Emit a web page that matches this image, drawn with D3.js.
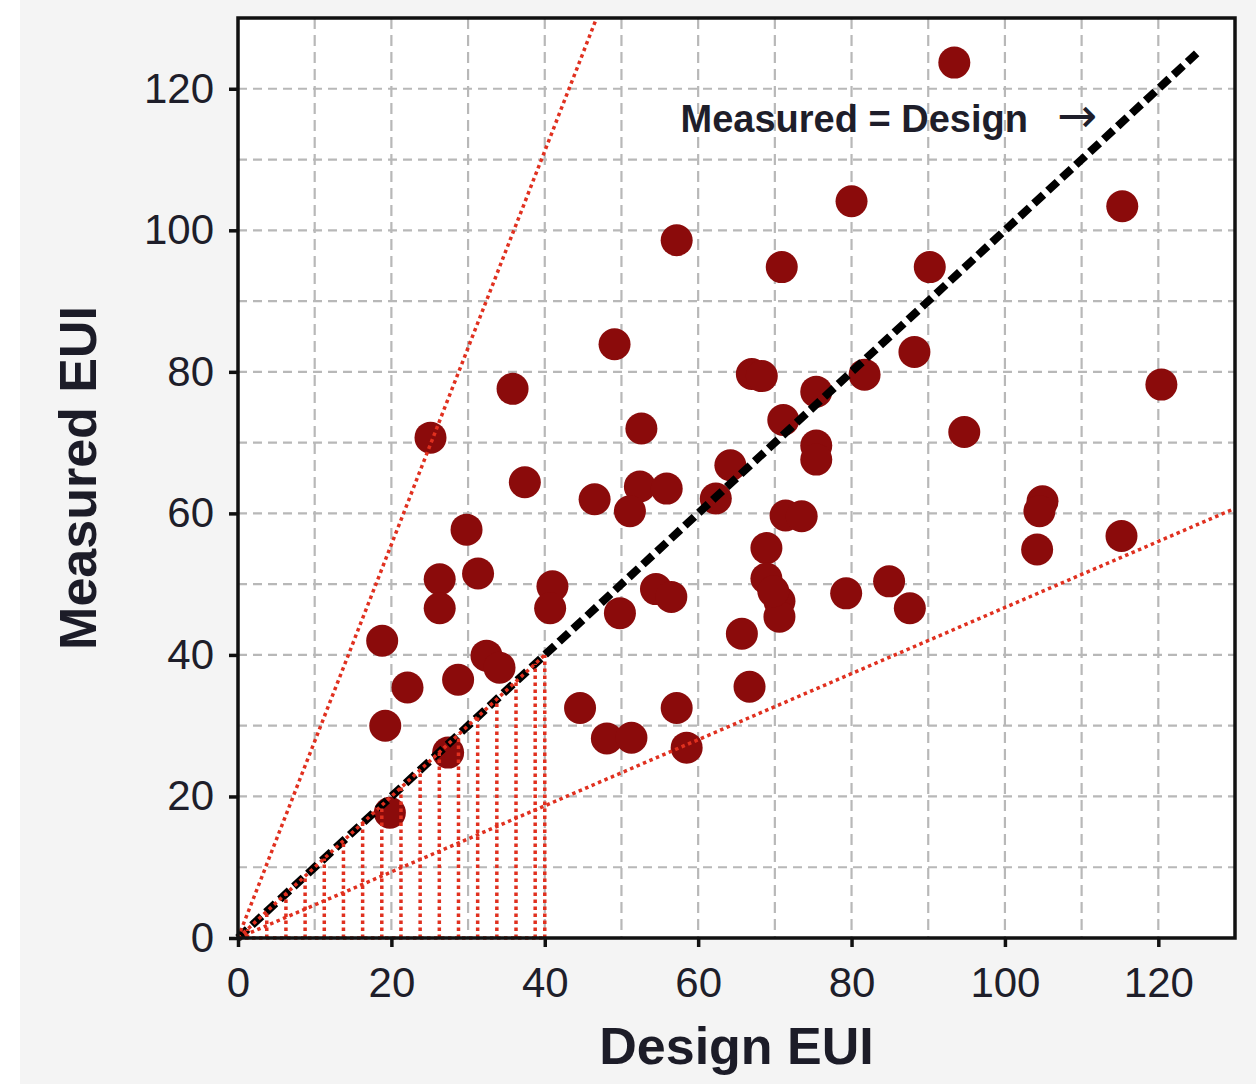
<!DOCTYPE html>
<html>
<head>
<meta charset="utf-8">
<script src="https://cdn.jsdelivr.net/npm/d3@7"></script>
<style>
  html, body { margin: 0; padding: 0; background: #fff; }
  svg { display: block; }
  .tick text { font-family: "Liberation Sans", Arial, sans-serif; fill: #1e1e2a; }
</style>
</head>
<body>
<svg id="chart" width="1256" height="1084"></svg>
<script>
// design EUI (x) vs measured EUI (y)
const designEUI = [93.4, 80.0, 115.3, 57.2, 70.9, 90.2, 49.1, 88.2, 35.8, 67.0,
  68.3, 81.7, 120.4, 75.4, 25.1, 52.6, 94.7, 71.1, 75.4, 75.4,
  64.2, 37.4, 46.5, 52.4, 55.9, 62.3, 51.1, 104.9, 104.5, 104.2,
  115.2, 29.8, 71.4, 73.5, 68.9, 68.9, 26.3, 31.3, 41.0, 40.7,
  26.3, 49.8, 54.5, 56.5, 70.6, 70.6, 79.3, 84.9, 87.6, 18.8,
  65.7, 22.1, 28.7, 32.4, 34.1, 44.6, 57.2, 66.7, 19.2, 48.1,
  51.3, 58.5, 27.4, 19.8, 69.8];
const measuredEUI = [123.7, 104.1, 103.4, 98.6, 94.8, 94.8, 83.9, 82.8, 77.6, 79.7,
  79.4, 79.6, 78.2, 77.2, 70.7, 72.0, 71.5, 73.2, 69.6, 67.6,
  66.8, 64.4, 62.0, 63.8, 63.5, 62.1, 60.3, 61.7, 60.3, 54.9,
  56.8, 57.7, 59.7, 59.6, 55.1, 50.8, 50.7, 51.5, 49.7, 46.6,
  46.6, 45.9, 49.3, 48.2, 47.6, 45.4, 48.7, 50.4, 46.6, 42.0,
  43.0, 35.4, 36.5, 39.9, 38.2, 32.5, 32.5, 35.5, 30.0, 28.2,
  28.3, 26.9, 26.2, 17.7, 49.0];

const xTicks = [0, 20, 40, 60, 80, 100, 120];
const yTicks = [0, 20, 40, 60, 80, 100, 120];
const gridVals = [10, 20, 30, 40, 50, 60, 70, 80, 90, 100, 110, 120];

// reference lines: measured = slope * design
const upperSlope = 2.78;
const lowerSlope = 0.467;
const identityEnd = 125;
const hatchEnd = 40;
const hatchX = [1.25, 3.75, 6.25, 8.75, 11.25, 13.75, 16.25, 18.75, 21.25,
  23.75, 26.25, 28.75, 31.25, 33.75, 36.25, 38.75, 40];

const points = designEUI.map((d, i) => ({ x: d, y: measuredEUI[i] }));

const margin = {top: 18, right: 21, bottom: 146, left: 238};
const width = 1256, height = 1084;
const chartW = width - margin.left - margin.right;
const chartH = height - margin.top - margin.bottom;

const svg = d3.select('#chart');

svg.append('rect').attr('x', 20).attr('y', 0)
  .attr('width', width - 20).attr('height', height).attr('fill', '#f4f4f4');

const x = d3.scaleLinear().domain([0, 130]).range([0, chartW]);
const y = d3.scaleLinear().domain([0, 130]).range([chartH, 0]);

const g = svg.append('g').attr('transform', `translate(${margin.left},${margin.top})`);

g.append('rect').attr('width', chartW).attr('height', chartH).attr('fill', '#fff');

// grid
g.append('g').selectAll('line').data(gridVals).join('line')
  .attr('x1', d => x(d)).attr('x2', d => x(d))
  .attr('y1', 0).attr('y2', chartH)
  .attr('stroke', '#b8b8b8').attr('stroke-width', 2.2)
  .attr('stroke-dasharray', '11,6');
g.append('g').selectAll('line').data(gridVals).join('line')
  .attr('y1', d => y(d)).attr('y2', d => y(d))
  .attr('x1', 0).attr('x2', chartW)
  .attr('stroke', '#b8b8b8').attr('stroke-width', 2.2)
  .attr('stroke-dasharray', '9,6');

// points
g.append('g').selectAll('circle').data(points).join('circle')
  .attr('cx', d => x(d.x)).attr('cy', d => y(d.y)).attr('r', 16)
  .attr('fill', '#8b0b0b');

// measured = design
g.append('line')
  .attr('x1', x(0)).attr('y1', y(0))
  .attr('x2', x(identityEnd)).attr('y2', y(identityEnd))
  .attr('stroke', '#000').attr('stroke-width', 8)
  .attr('stroke-dasharray', '13,6');

// red dotted bounds and hatched triangle
const red = '#e0301f';
const dotted = sel => sel.attr('stroke', red).attr('stroke-width', 3.5)
  .attr('stroke-dasharray', '3.5,3.5').attr('fill', 'none');

const upperX = 130 / upperSlope;
g.append('line').call(dotted)
  .attr('x1', x(0)).attr('y1', y(0))
  .attr('x2', x(upperX)).attr('y2', y(130));
g.append('line').call(dotted)
  .attr('x1', x(0)).attr('y1', y(0))
  .attr('x2', x(130)).attr('y2', y(130 * lowerSlope));

g.append('g').selectAll('line').data(hatchX).join('line').call(dotted)
  .attr('x1', d => x(d)).attr('x2', d => x(d))
  .attr('y1', y(0)).attr('y2', d => y(d));
g.append('line').call(dotted)
  .attr('x1', x(0)).attr('y1', y(0)).attr('x2', x(hatchEnd)).attr('y2', y(0));
g.append('line').call(dotted)
  .attr('x1', x(0)).attr('y1', y(0)).attr('x2', x(hatchEnd)).attr('y2', y(hatchEnd));

// frame
g.append('rect').attr('width', chartW).attr('height', chartH)
  .attr('fill', 'none').attr('stroke', '#111').attr('stroke-width', 3.5);

// axes
const xAxis = g.append('g').attr('transform', `translate(0,${chartH})`)
  .call(d3.axisBottom(x).tickValues(xTicks).tickSizeInner(9).tickSizeOuter(0).tickPadding(20));
const yAxis = g.append('g')
  .call(d3.axisLeft(y).tickValues(yTicks).tickSizeInner(9).tickSizeOuter(0).tickPadding(15));
[xAxis, yAxis].forEach(a => {
  a.select('.domain').remove();
  a.selectAll('.tick line').attr('stroke', '#111').attr('stroke-width', 3.5);
  a.selectAll('.tick text').attr('font-size', 42);
});

// annotation
g.append('text')
  .attr('x', x(57.7)).attr('y', y(113.9))
  .attr('font-family', '"Liberation Sans", Arial, sans-serif')
  .attr('font-weight', 'bold').attr('font-size', 38).attr('fill', '#1e1e2a')
  .text('Measured = Design');
g.append('text')
  .attr('x', x(106.8)).attr('y', y(113.9))
  .attr('font-family', '"DejaVu Sans", sans-serif')
  .attr('font-size', 48).attr('fill', '#1e1e2a')
  .text('→');

// axis titles
svg.append('text')
  .attr('x', margin.left + x(65)).attr('y', 1064)
  .attr('text-anchor', 'middle')
  .attr('font-family', '"Liberation Sans", Arial, sans-serif')
  .attr('font-weight', 'bold').attr('font-size', 52).attr('fill', '#1c1c28')
  .text('Design EUI');
svg.append('text')
  .attr('transform', `translate(96,${margin.top + y(65)}) rotate(-90)`)
  .attr('text-anchor', 'middle')
  .attr('font-family', '"Liberation Sans", Arial, sans-serif')
  .attr('font-weight', 'bold').attr('font-size', 52).attr('fill', '#1c1c28')
  .text('Measured EUI');
</script>
</body>
</html>
